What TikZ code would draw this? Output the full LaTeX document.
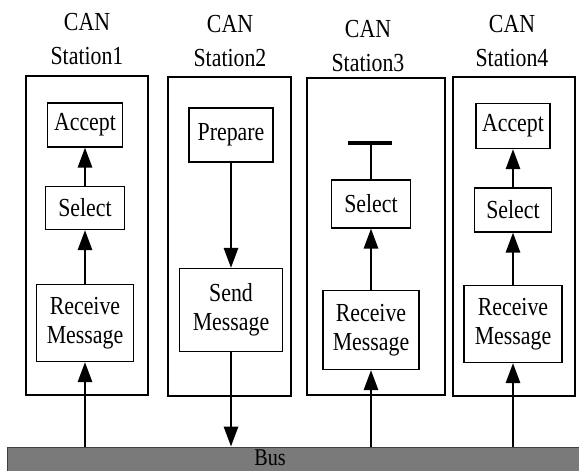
\documentclass[tikz,border=0pt]{standalone}
\usepackage{fontspec}
\setmainfont[FakeStretch=0.84]{Liberation Serif}
\usetikzlibrary{arrows.meta}
\tikzset{
 station/.style={draw,line width=2.1pt,minimum width=#1},
 station/.default=122pt,
 title/.style={align=center,font=\fontsize{26}{34}\selectfont},
 stepbox/.style={draw,line width=1.1pt,align=center,inner sep=2pt,font=\fontsize{26}{29}\selectfont},
 flow/.style={line width=2.8pt,-{Triangle[length=20pt,width=14pt]}},
 bus/.style={fill=black!52,draw=black!75,line width=0.8pt}
}
\begin{document}
\begin{tikzpicture}[x=1pt,y=-1pt]
 \useasboundingbox (0,0) rectangle (579,471);
 \foreach \n/\x/\y in {1/87/39,2/230/41,3/368/46,4/512/41}{\node[title] (t\n) at (\x,\y) {CAN\\Station\n};}
 \node[station,minimum height=319pt] (s1) at (87,235.5) {};
 \node[station=123pt,minimum height=319pt] (s2) at (229.5,236.5) {};
 \node[station=138pt,minimum height=317pt] (s3) at (376,236.5) {};
 \node[station,minimum height=319pt] (s4) at (514,236.5) {};
 \node[bus,minimum width=572pt,minimum height=24pt] (bus) at (293,459) {};
 \node[font=\fontsize{24}{29}\selectfont] (bustext) at (270,458) {Bus};
 \node[stepbox,minimum width=75pt,minimum height=44pt] (acc1) at (85,125) {Accept};
 \node[stepbox,minimum width=79pt,minimum height=43pt] (sel1) at (85,208) {Select};
 \node[stepbox,minimum width=97pt,minimum height=77pt] (rec1) at (85,323) {Receive\\Message};
 \node[stepbox,minimum width=84pt,minimum height=54pt] (prep) at (231,135) {Prepare};
 \node[stepbox,minimum width=103pt,minimum height=83pt] (send) at (231,310) {Send\\Message};
 \coordinate (tee) at (370,143);
 \node[stepbox,minimum width=79pt,minimum height=48pt] (sel3) at (371,204) {Select};
 \node[stepbox,minimum width=96pt,minimum height=79pt] (rec3) at (371,330) {Receive\\Message};
 \node[stepbox,minimum width=74pt,minimum height=45pt] (acc4) at (513,126) {Accept};
 \node[stepbox,minimum width=77pt,minimum height=44pt] (sel4) at (513,210) {Select};
 \node[stepbox,minimum width=98pt,minimum height=77pt] (rec4) at (513,324) {Receive\\Message};
 \draw[flow] (sel1) -- (acc1); \draw[flow] (rec1) -- (sel1); \draw[flow] (bus.north -| rec1) -- (rec1);
 \draw[flow] (prep) -- (send); \draw[flow] (send.south) -- (send.south |- bus.north);
 \draw[flow] (rec3) -- (sel3); \draw[flow] (bus.north -| rec3) -- (rec3);
 \draw[line width=2.8pt] (sel3.north) -- (sel3.north |- tee);
 \draw[line width=4pt] ([xshift=-22pt]tee) -- ([xshift=22pt]tee);
 \draw[flow] (sel4) -- (acc4); \draw[flow] (rec4) -- (sel4); \draw[flow] (bus.north -| rec4) -- (rec4);
\end{tikzpicture}
\end{document}
